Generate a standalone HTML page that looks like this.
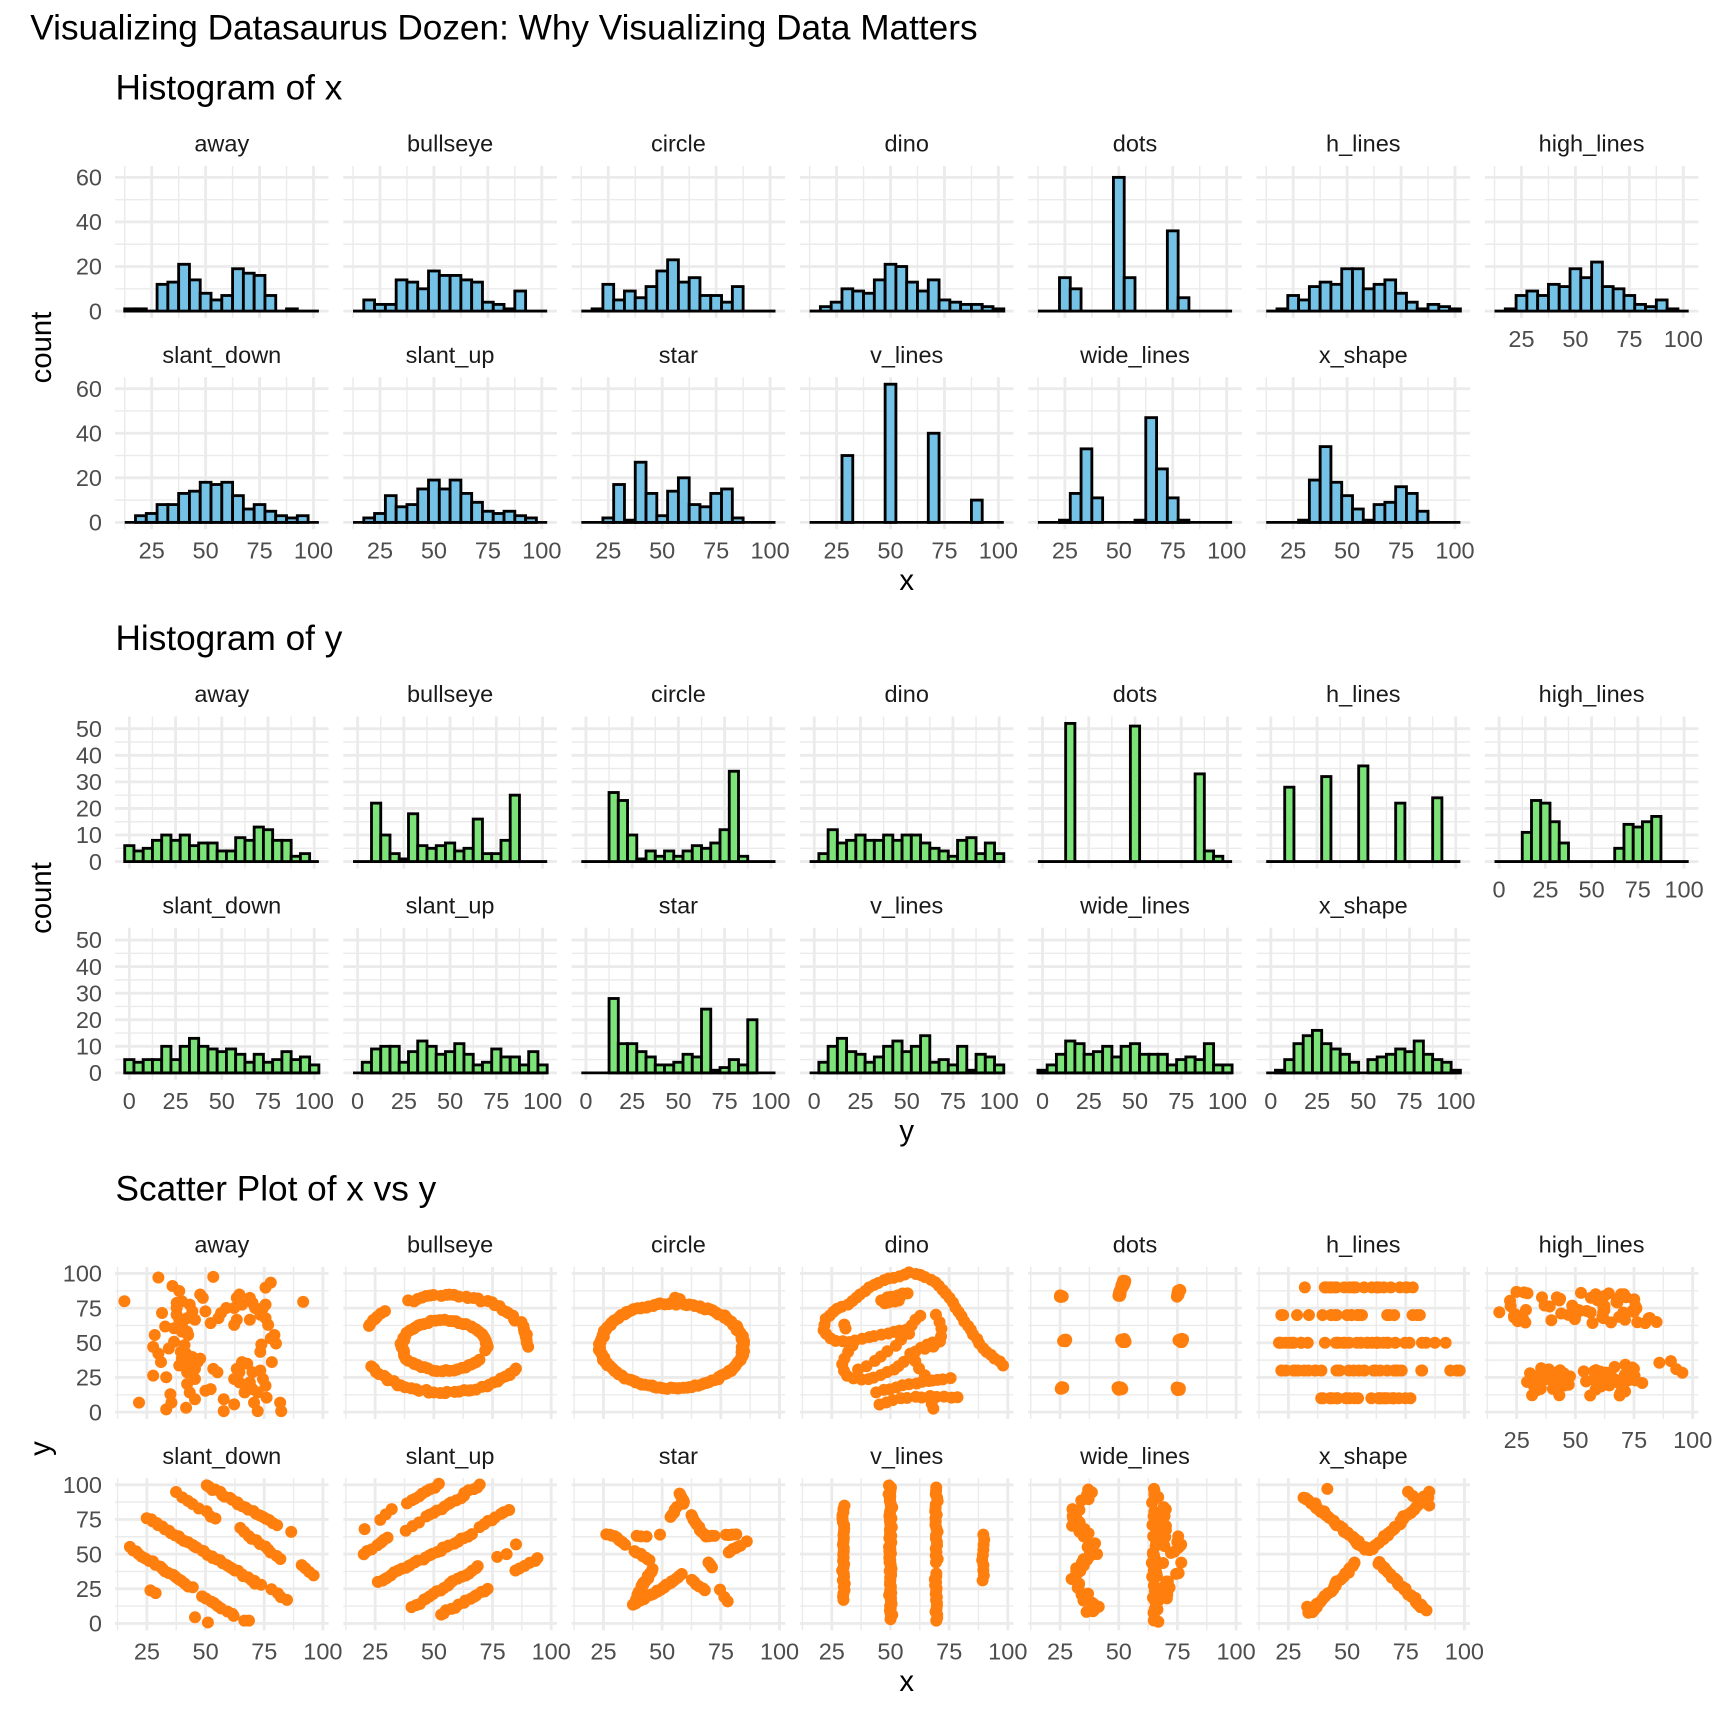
<!DOCTYPE html>
<html><head><meta charset="utf-8">
<style>
html,body{margin:0;padding:0;background:#fff;}
svg{display:block;}
text{font-family:"Liberation Sans",Arial,sans-serif;}
.t{font-size:35.2px;fill:#000;}
.s{font-size:23.5px;fill:#1A1A1A;text-anchor:middle;}
.yl{font-size:23.5px;fill:#4D4D4D;text-anchor:end;}
.xl{font-size:23.5px;fill:#4D4D4D;text-anchor:middle;}
.at{font-size:29.3px;fill:#000;text-anchor:middle;}
</style></head><body>
<svg id="c" width="1728" height="1728" viewBox="0 0 1728 1728" xmlns="http://www.w3.org/2000/svg">
<rect x="0" y="0" width="1728" height="1728" fill="#fff"/>
<g id="grid"></g><g id="geom"></g>

<text class="t" x="30.3" y="39.3">Visualizing Datasaurus Dozen: Why Visualizing Data Matters</text>
<text class="t" x="115.5" y="99.3">Histogram of x</text>
<text class="t" x="115.5" y="649.8">Histogram of y</text>
<text class="t" x="115.5" y="1200.3">Scatter Plot of x vs y</text>

<!-- strips plot 1 -->
<g class="s">
<text x="221.8" y="151.7">away</text><text x="450.1" y="151.7">bullseye</text><text x="678.4" y="151.7">circle</text><text x="906.7" y="151.7">dino</text><text x="1135" y="151.7">dots</text><text x="1363.3" y="151.7">h_lines</text><text x="1591.6" y="151.7">high_lines</text>
<text x="221.8" y="363">slant_down</text><text x="450.1" y="363">slant_up</text><text x="678.4" y="363">star</text><text x="906.7" y="363">v_lines</text><text x="1135" y="363">wide_lines</text><text x="1363.3" y="363">x_shape</text>
</g>
<g class="s" transform="translate(0,550.5)">
<text x="221.8" y="151.7">away</text><text x="450.1" y="151.7">bullseye</text><text x="678.4" y="151.7">circle</text><text x="906.7" y="151.7">dino</text><text x="1135" y="151.7">dots</text><text x="1363.3" y="151.7">h_lines</text><text x="1591.6" y="151.7">high_lines</text>
<text x="221.8" y="363">slant_down</text><text x="450.1" y="363">slant_up</text><text x="678.4" y="363">star</text><text x="906.7" y="363">v_lines</text><text x="1135" y="363">wide_lines</text><text x="1363.3" y="363">x_shape</text>
</g>
<g class="s" transform="translate(0,1101)">
<text x="221.8" y="151.7">away</text><text x="450.1" y="151.7">bullseye</text><text x="678.4" y="151.7">circle</text><text x="906.7" y="151.7">dino</text><text x="1135" y="151.7">dots</text><text x="1363.3" y="151.7">h_lines</text><text x="1591.6" y="151.7">high_lines</text>
<text x="221.8" y="363">slant_down</text><text x="450.1" y="363">slant_up</text><text x="678.4" y="363">star</text><text x="906.7" y="363">v_lines</text><text x="1135" y="363">wide_lines</text><text x="1363.3" y="363">x_shape</text>
</g>

<!-- y tick labels plot 1 -->
<g class="yl"><text x="102" y="319.3">0</text><text x="102" y="274.7">20</text><text x="102" y="230.2">40</text><text x="102" y="185.6">60</text></g>
<g class="yl" transform="translate(0,211.3)"><text x="102" y="319.3">0</text><text x="102" y="274.7">20</text><text x="102" y="230.2">40</text><text x="102" y="185.6">60</text></g>
<!-- y tick labels plot 2 -->
<g class="yl"><text x="102" y="869.8">0</text><text x="102" y="843.2">10</text><text x="102" y="816.6">20</text><text x="102" y="790.1">30</text><text x="102" y="763.5">40</text><text x="102" y="736.9">50</text></g>
<g class="yl" transform="translate(0,211.3)"><text x="102" y="869.8">0</text><text x="102" y="843.2">10</text><text x="102" y="816.6">20</text><text x="102" y="790.1">30</text><text x="102" y="763.5">40</text><text x="102" y="736.9">50</text></g>
<!-- y tick labels plot 3 -->
<g class="yl"><text x="102" y="1420.3">0</text><text x="102" y="1385.6">25</text><text x="102" y="1351">50</text><text x="102" y="1316.3">75</text><text x="102" y="1281.7">100</text></g>
<g class="yl" transform="translate(0,211.3)"><text x="102" y="1420.3">0</text><text x="102" y="1385.6">25</text><text x="102" y="1351">50</text><text x="102" y="1316.3">75</text><text x="102" y="1281.7">100</text></g>

<!-- x tick labels plot 1 -->
<g class="xl"><text x="151.7" y="558.5">25</text><text x="205.6" y="558.5">50</text><text x="259.6" y="558.5">75</text><text x="313.5" y="558.5">100</text></g>
<g class="xl" transform="translate(228.3,0)"><text x="151.7" y="558.5">25</text><text x="205.6" y="558.5">50</text><text x="259.6" y="558.5">75</text><text x="313.5" y="558.5">100</text></g>
<g class="xl" transform="translate(456.6,0)"><text x="151.7" y="558.5">25</text><text x="205.6" y="558.5">50</text><text x="259.6" y="558.5">75</text><text x="313.5" y="558.5">100</text></g>
<g class="xl" transform="translate(684.9,0)"><text x="151.7" y="558.5">25</text><text x="205.6" y="558.5">50</text><text x="259.6" y="558.5">75</text><text x="313.5" y="558.5">100</text></g>
<g class="xl" transform="translate(913.2,0)"><text x="151.7" y="558.5">25</text><text x="205.6" y="558.5">50</text><text x="259.6" y="558.5">75</text><text x="313.5" y="558.5">100</text></g>
<g class="xl" transform="translate(1141.5,0)"><text x="151.7" y="558.5">25</text><text x="205.6" y="558.5">50</text><text x="259.6" y="558.5">75</text><text x="313.5" y="558.5">100</text></g>
<g class="xl" transform="translate(1369.8,-211.3)"><text x="151.7" y="558.5">25</text><text x="205.6" y="558.5">50</text><text x="259.6" y="558.5">75</text><text x="313.5" y="558.5">100</text></g>

<!-- x tick labels plot 2 -->
<g class="xl"><text x="129.3" y="1109">0</text><text x="175.6" y="1109">25</text><text x="221.8" y="1109">50</text><text x="268" y="1109">75</text><text x="314.3" y="1109">100</text></g>
<g class="xl" transform="translate(228.3,0)"><text x="129.3" y="1109">0</text><text x="175.6" y="1109">25</text><text x="221.8" y="1109">50</text><text x="268" y="1109">75</text><text x="314.3" y="1109">100</text></g>
<g class="xl" transform="translate(456.6,0)"><text x="129.3" y="1109">0</text><text x="175.6" y="1109">25</text><text x="221.8" y="1109">50</text><text x="268" y="1109">75</text><text x="314.3" y="1109">100</text></g>
<g class="xl" transform="translate(684.9,0)"><text x="129.3" y="1109">0</text><text x="175.6" y="1109">25</text><text x="221.8" y="1109">50</text><text x="268" y="1109">75</text><text x="314.3" y="1109">100</text></g>
<g class="xl" transform="translate(913.2,0)"><text x="129.3" y="1109">0</text><text x="175.6" y="1109">25</text><text x="221.8" y="1109">50</text><text x="268" y="1109">75</text><text x="314.3" y="1109">100</text></g>
<g class="xl" transform="translate(1141.5,0)"><text x="129.3" y="1109">0</text><text x="175.6" y="1109">25</text><text x="221.8" y="1109">50</text><text x="268" y="1109">75</text><text x="314.3" y="1109">100</text></g>
<g class="xl" transform="translate(1369.8,-211.3)"><text x="129.3" y="1109">0</text><text x="175.6" y="1109">25</text><text x="221.8" y="1109">50</text><text x="268" y="1109">75</text><text x="314.3" y="1109">100</text></g>

<!-- x tick labels plot 3 -->
<g class="xl"><text x="146.9" y="1659.5">25</text><text x="205.6" y="1659.5">50</text><text x="264.3" y="1659.5">75</text><text x="322.9" y="1659.5">100</text></g>
<g class="xl" transform="translate(228.3,0)"><text x="146.9" y="1659.5">25</text><text x="205.6" y="1659.5">50</text><text x="264.3" y="1659.5">75</text><text x="322.9" y="1659.5">100</text></g>
<g class="xl" transform="translate(456.6,0)"><text x="146.9" y="1659.5">25</text><text x="205.6" y="1659.5">50</text><text x="264.3" y="1659.5">75</text><text x="322.9" y="1659.5">100</text></g>
<g class="xl" transform="translate(684.9,0)"><text x="146.9" y="1659.5">25</text><text x="205.6" y="1659.5">50</text><text x="264.3" y="1659.5">75</text><text x="322.9" y="1659.5">100</text></g>
<g class="xl" transform="translate(913.2,0)"><text x="146.9" y="1659.5">25</text><text x="205.6" y="1659.5">50</text><text x="264.3" y="1659.5">75</text><text x="322.9" y="1659.5">100</text></g>
<g class="xl" transform="translate(1141.5,0)"><text x="146.9" y="1659.5">25</text><text x="205.6" y="1659.5">50</text><text x="264.3" y="1659.5">75</text><text x="322.9" y="1659.5">100</text></g>
<g class="xl" transform="translate(1369.8,-211.3)"><text x="146.9" y="1659.5">25</text><text x="205.6" y="1659.5">50</text><text x="264.3" y="1659.5">75</text><text x="322.9" y="1659.5">100</text></g>

<!-- axis titles -->
<text class="at" x="906.7" y="590">x</text>
<text class="at" x="906.7" y="1140.5">y</text>
<text class="at" x="906.7" y="1691">x</text>
<text class="at" transform="translate(51,347.5) rotate(-90)">count</text>
<text class="at" transform="translate(51,898) rotate(-90)">count</text>
<text class="at" transform="translate(50,1448.5) rotate(-90)">y</text>
</svg>
<script>
(function(){
var NS='http://www.w3.org/2000/svg';
var PL=115,PW=213.6,PITCH=228.3,PH=152,TOP0=166,PSTEP=550.5,RSTEP=211.3;
var G=document.getElementById('grid'),M=document.getElementById('geom');
function el(t,a,p){var e=document.createElementNS(NS,t);for(var k in a)e.setAttribute(k,a[k]);p.appendChild(e);return e;}
function scales(k,i,xd,yd){var r=i<7?0:1,c=i<7?i:i-7;var x0=PL+c*PITCH,y0=TOP0+k*PSTEP+r*RSTEP;
 return {x0:x0,y0:y0,sx:function(v){return x0+(v-xd[0])/(xd[1]-xd[0])*PW;},sy:function(v){return y0+(yd[1]-v)/(yd[1]-yd[0])*PH;}};}
function L(x1,y1,x2,y2,w){el('line',{x1:x1,y1:y1,x2:x2,y2:y2,stroke:'#EBEBEB','stroke-width':w},G);}
function grid(s,xd,yd,xmaj,xmin,ymaj,ymin){
 xmin.forEach(function(v){if(v>xd[0]&&v<xd[1])L(s.sx(v),s.y0,s.sx(v),s.y0+PH,1.42);});
 ymin.forEach(function(v){if(v>yd[0]&&v<yd[1])L(s.x0,s.sy(v),s.x0+PW,s.sy(v),1.42);});
 xmaj.forEach(function(v){L(s.sx(v),s.y0,s.sx(v),s.y0+PH,2.84);});
 ymaj.forEach(function(v){L(s.x0,s.sy(v),s.x0+PW,s.sy(v),2.84);});
}
function hist(k,data,start,xd,yd,xmaj,xmin,ymaj,ymin,fill){
 data.forEach(function(cn,i){
  var s=scales(k,i,xd,yd);grid(s,xd,yd,xmaj,xmin,ymaj,ymin);
  var y0=s.sy(0);
  el('line',{x1:s.sx(start),x2:s.sx(start+5*cn.length),y1:y0,y2:y0,stroke:'#000','stroke-width':2.84},M);
  cn.forEach(function(c,j){if(c>0){var xa=s.sx(start+5*j),xb=s.sx(start+5*j+5),yt=s.sy(c);
   el('rect',{x:xa,y:yt,width:xb-xa,height:y0-yt,fill:fill,stroke:'#000','stroke-width':2.84},M);}});
 });
}
var HX=[
[1,1,0,12,13,21,14,8,5,7,19,17,16,7,0,1,0,0],
[0,5,3,3,14,13,10,18,16,16,14,13,4,3,1,9,0,0],
[0,1,12,5,9,6,11,18,23,13,15,7,7,4,11,0,0,0],
[0,2,4,10,9,8,14,21,20,13,9,14,5,4,3,3,2,1],
[0,0,15,10,0,0,0,60,15,0,0,0,36,6,0,0,0,0],
[0,1,7,5,11,13,12,19,19,10,12,14,8,4,1,3,2,1],
[0,1,7,9,7,12,11,19,15,22,11,10,7,3,2,5,1,0],
[0,3,4,8,8,13,14,18,17,18,12,6,8,5,3,2,3,0],
[0,2,4,12,7,8,15,19,15,19,13,9,5,4,5,3,2,0],
[0,0,2,17,1,27,13,3,14,20,8,7,13,15,2,0,0,0],
[0,0,0,30,0,0,0,62,0,0,0,40,0,0,0,10,0,0],
[0,0,1,13,33,11,0,0,0,1,47,24,11,1,0,0,0,0],
[0,0,0,1,19,34,18,12,6,1,8,9,16,13,5,0,0,0]];
var HY=[
[6,4,5,8,10,8,10,6,7,7,4,4,9,8,13,12,8,8,2,3,0],
[0,0,22,10,3,1,18,6,5,6,7,4,5,16,3,3,8,25,0,0,0],
[0,0,0,26,23,10,1,4,2,4,2,4,6,5,7,12,34,2,0,0,0],
[0,3,12,7,8,10,8,8,10,8,10,10,7,5,4,2,8,9,3,7,3],
[0,0,0,52,0,0,0,0,0,0,51,0,0,0,0,0,0,33,4,2,0],
[0,0,28,0,0,0,32,0,0,0,36,0,0,0,22,0,0,0,24,0,0],
[0,0,0,11,23,22,15,7,0,0,0,0,0,5,14,13,15,17,0,0,0],
[5,4,5,5,10,5,10,13,10,9,8,9,7,4,7,4,5,8,5,6,3],
[0,4,9,10,10,4,8,12,10,7,8,11,7,3,4,9,6,6,3,8,3],
[0,0,0,28,11,11,8,6,3,3,4,7,6,24,1,2,5,3,20,0,0],
[0,4,10,13,8,7,4,6,10,12,8,10,14,4,5,3,10,1,7,6,3],
[1,3,7,12,11,7,8,10,6,10,11,7,7,7,3,5,6,5,11,3,3],
[0,1,5,11,14,16,11,9,7,4,0,5,6,7,9,8,12,7,5,4,1]];
hist(0,HX,12.5,[8,107],[-3.1,65.1],[25,50,75,100],[12.5,37.5,62.5,87.5],[0,20,40,60],[10,30,50],'#74C2E5');
hist(1,HY,-2.5,[-7.75,107.75],[-2.6,54.6],[0,25,50,75,100],[-12.5,12.5,37.5,62.5,87.5],[0,10,20,30,40,50],[5,15,25,35,45],'#7BE377');

/* scatter */
var seed=7;
function rnd(){seed=(seed+0x6D2B79F5)|0;var t=Math.imul(seed^(seed>>>15),1|seed);t=(t+Math.imul(t^(t>>>7),61|t))^t;return((t^(t>>>14))>>>0)/4294967296;}
function rn(){return (rnd()+rnd()+rnd()-1.5)*2;}
function seg(a,x1,y1,x2,y2,n,j){for(var i=0;i<n;i++){var t=n==1?0.5:i/(n-1);a.push([x1+(x2-x1)*t+rn()*j,y1+(y2-y1)*t+rn()*j]);}}
function poly(a,pts,n,j,closed){var P=closed?pts.concat([pts[0]]):pts;if(P.length==1){for(var u=0;u<n;u++)a.push([P[0][0]+rn()*j,P[0][1]+rn()*j]);return;}
 var Ls=[0];for(var i=1;i<P.length;i++){var dx=(P[i][0]-P[i-1][0])*2.35,dy=(P[i][1]-P[i-1][1])*1.39;Ls.push(Ls[i-1]+Math.sqrt(dx*dx+dy*dy));}
 var T=Ls[Ls.length-1];for(var k=0;k<n;k++){var d=closed?(k+0.5)/n*T:(n==1?0:k/(n-1)*T);var q=1;while(q<Ls.length-1&&Ls[q]<d)q++;var f=(d-Ls[q-1])/((Ls[q]-Ls[q-1])||1);
 a.push([P[q-1][0]+(P[q][0]-P[q-1][0])*f+rn()*j,P[q-1][1]+(P[q][1]-P[q-1][1])*f+rn()*j]);}}
function ring(a,cx,cy,r,n,ranges,j){var tot=0;ranges.forEach(function(g){tot+=g[1]-g[0];});
 for(var k=0;k<n;k++){var d=(k+rnd()*0.8)/n*tot,ang=ranges[0][0];for(var m=0;m<ranges.length;m++){var w=ranges[m][1]-ranges[m][0];if(d<=w){ang=ranges[m][0]+d;break;}d-=w;}
 var A=ang*Math.PI/180,rr=r+rn()*j;a.push([cx+rr*Math.cos(A),cy+rr*Math.sin(A)]);}}
function clus(a,cx,cy,n,sx,sy){for(var i=0;i<n;i++)a.push([cx+rn()*sx,cy+rn()*sy]);}

var AW=[[200,390],[265,320],[228,690],[292,345],[305,360],[280,710],[290,690],[318,705],[370,318],[345,370],[350,380],[310,390],[325,400],[300,430],[320,440],[330,420],[355,420],[365,455],[272,425],[278,465],[258,490],[295,470],[310,460],[320,480],[255,525],[265,545],[270,570],[285,530],[295,510],[308,540],[318,545],[330,555],[340,570],[305,580],[320,600],[335,620],[320,635],[325,660],[335,680],[288,665],[255,610],[280,615],[370,590],[378,600],[355,655],[365,650],[390,680],[390,715],[410,695],[415,590],[410,620],[425,570],[435,575],[420,630],[440,640],[445,600],[460,595],[465,620],[470,640],[455,660],[448,690],[455,715],[472,675],[498,690],[500,715],[482,570],[460,540],[462,518],[490,515],[487,490],[480,500],[475,460],[470,440],[465,410],[470,400],[450,410],[440,380],[445,395],[420,370],[425,400],[410,410],[415,445],[410,460],[395,410],[385,425],[380,440],[440,445],[470,350],[480,335],[542,392],[440,630],[430,660],[445,650],[420,600],[300,410],[305,445],[310,480],[322,490],[315,520],[310,560],[325,580],[345,560],[335,590],[300,395],[335,445],[415,380],[460,430]];
var away=AW.map(function(p){return [25+(p[0]-243)/4.49,(718-p[1])/4.1];});

var bull=[];ring(bull,55,49,35,80,[[-3,118],[135,160],[205,332]],0.5);ring(bull,54.3,48,18,62,[[-12,330]],0.4);
var circ=[];ring(circ,54.27,47.83,30.5,140,[[0,360]],0.35);circ.push([55.5,82.5],[57.5,81.5]);

function dz(p){return [11.42+(p[0]/3-4.9)/2.347,104.67-(p[1]/3-5)/1.3863];}
var dino=[];
function dp(pts,n,j){poly(dino,pts.map(dz),n,j,false);}
dp([[88,205],[95,170],[120,145],[160,125],[195,100],[225,75],[265,55],[305,45],[345,32],[380,40],[410,55],[440,78],[462,105],[482,135],[500,165],[520,195],[540,225],[562,255],[592,282],[625,310]],46,0.25);
dp([[262,112],[300,100],[338,95]],8,0.6);dp([[268,125],[310,115]],4,0.5);
dp([[148,188],[150,200]],2,0.2);
dp([[92,215],[115,235],[160,240],[205,230],[250,220],[295,210],[340,200],[375,160]],17,0.25);
dp([[425,160],[440,190],[440,232],[418,250],[392,260]],7,0.25);
dp([[170,250],[150,290],[140,320],[160,345],[200,355],[250,345],[300,320],[340,290],[370,262],[400,245],[435,235]],21,0.3);
dp([[340,215],[300,250],[260,280],[220,310],[190,322]],8,0.3);
dp([[345,275],[365,305],[385,335],[410,355]],5,0.25);
dp([[245,390],[300,375],[350,365],[400,358],[465,350]],12,0.3);
dp([[255,428],[300,412],[360,405],[420,405],[490,405]],12,0.3);
dino.push(dz([415,440]),dz([410,425]));

var dots=[];clus(dots,25.4,83.3,8,0.4,0.5);seg(dots,50,83.5,52.3,94.5,23,0.3);seg(dots,75.1,83.3,75.8,89,8,0.3);
clus(dots,27.3,51.7,8,0.5,0.6);clus(dots,52,51.7,26,0.5,0.7);clus(dots,76.8,51.7,17,0.6,0.7);
clus(dots,25.9,17.6,9,0.4,0.5);clus(dots,50.5,17.1,26,0.5,0.5);clus(dots,75.4,16.6,17,0.4,0.5);

var hl=[];
function hrow(y,n,x1,x2){hl.push([x1,y],[x2,y]);for(var i=0;i<n-2;i++)hl.push([x1+(x2-x1)*rnd(),y]);}
hl.push([32,90]);hrow(90,23,40.5,78);hrow(70,22,22,81);hrow(50,36,21,92);hrow(30,29,22,82);hrow(30,3,94,98);hrow(10,28,39,77);

var hi=[];for(var i=0;i<62;i++)hi.push([22+60*rnd(),64+23*rnd()]);hi.push([17.6,72],[84.6,65]);
for(i=0;i<73;i++)hi.push([28+50*rnd(),Math.max(12,Math.min(37,24+rn()*5.5))]);hi.push([85.8,35.6],[90.7,36.8],[95.6,28.4],[93,31],[78.5,21]);

var sd=[];seg(sd,17.5,54.5,44,26,20,0.4);seg(sd,25,76,73,28,38,0.4);seg(sd,37.5,94.5,55,75,8,0.4);seg(sd,50,100,80,71,22,0.4);
seg(sd,65,68,82,47,11,0.4);seg(sd,49,20,62,5,9,0.4);seg(sd,26.5,24,28.5,21.5,2,0.2);seg(sd,78,25,84.5,16.5,4,0.3);seg(sd,91,42,95.5,35,4,0.3);
sd.push([86.5,66],[45.5,4.4],[51,0.7],[66.5,2],[68.5,2]);

var su=[];seg(su,26,30,66,64,28,0.4);seg(su,41,12,69,41,20,0.4);seg(su,53,6,73,25,14,0.4);seg(su,47,77,70,100,16,0.4);
seg(su,39,87,52,100,9,0.4);seg(su,69,70,82,82,8,0.4);seg(su,20,50,31,62,7,0.4);seg(su,27,75,32,82,3,0.3);seg(su,38,67,44,73,3,0.3);seg(su,85,38,95,47,6,0.3);
su.push([77,48],[81,50],[85,57],[20.5,68]);

function sz(p){return [11.42+(p[0]/3-6.6)/2.347,104.67-(p[1]/3-5.3)/1.3863];}
var star=[];
function spn(pts,n,j){poly(star,pts.map(sz),n,j,false);}
spn([[345,62],[352,78],[358,92]],7,0.2);
spn([[318,132],[328,115],[335,102]],5,0.2);
spn([[378,125],[392,150],[405,170],[420,188],[450,190]],13,0.2);
spn([[482,185],[512,185]],5,0.2);spn([[545,205]],1,0.1);spn([[490,238],[525,218]],6,0.2);
spn([[430,268],[442,282]],3,0.2);
spn([[380,322],[420,352]],6,0.2);
star.push(sz([465,350]),sz([488,385]),sz([478,372]));
spn([[125,185],[150,190],[182,215]],9,0.2);
spn([[215,190],[245,190]],3,0.2);star.push(sz([285,185]));
spn([[210,235],[255,262]],7,0.2);
spn([[262,290],[232,340],[205,395]],26,0.3);
spn([[210,390],[270,360],[350,305]],24,0.3);

var vl=[];for(i=0;i<30;i++)vl.push([30+rn()*0.25,17+68*i/29]);
for(i=0;i<62;i++)vl.push([50+rn()*0.3,3+96.5*i/61]);
for(i=0;i<40;i++){var yy=i<17?2+34*i/16:44+54*(i-17)/22;vl.push([69.6+rn()*0.3,yy]);}
for(i=0;i<10;i++)vl.push([89.6+rn()*0.25,31+33*i/9]);

var wl=[];for(i=0;i<58;i++){var y1=8+90*rnd();wl.push([35+3.5*Math.sin(y1/7)+rn()*1.2,y1]);}
for(i=0;i<50;i++)wl.push([65.5+rn()*0.9,1+98*rnd()]);
for(i=0;i<24;i++)wl.push([70+rn()*1,15+75*rnd()]);
for(i=0;i<10;i++)wl.push([75.5+rn()*1,35+30*rnd()]);

var xs=[];seg(xs,32,91,58.8,52.5,42,0.5);seg(xs,61.2,53.7,84,92,32,0.5);seg(xs,34,7,53.8,44,30,0.5);seg(xs,63.5,44,83,10,28,0.5);
xs.push([41.6,97],[76,95],[78,92],[85,95],[33,12],[37,14],[80,14],[85,85]);

var SC=[away,bull,circ,dino,dots,hl,hi,sd,su,star,vl,wl,xs];
var sxd=[11.42,102.43],syd=[-4.97,104.67];
SC.forEach(function(arr,i){
 var s=scales(2,i,sxd,syd);grid(s,sxd,syd,[25,50,75,100],[12.5,37.5,62.5,87.5],[0,25,50,75,100],[12.5,37.5,62.5,87.5]);
 arr.forEach(function(p){var x=Math.max(sxd[0]+1.5,Math.min(sxd[1]-1.5,p[0])),y=Math.max(syd[0]+2,Math.min(syd[1]-2,p[1]));
  el('circle',{cx:s.sx(x),cy:s.sy(y),r:6,fill:'#FF7F0E'},M);});
});
})();
</script>
</body></html>
